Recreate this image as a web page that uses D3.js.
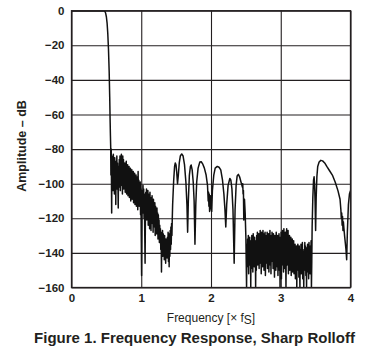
<!DOCTYPE html>
<html><head><meta charset="utf-8">
<script src="https://cdn.jsdelivr.net/npm/d3@7"></script>
<style>
html,body{margin:0;padding:0;background:#fff;}
svg{display:block;}
text{font-family:"Liberation Sans",Arial,sans-serif;fill:#231f20;}
</style></head>
<body>
<svg id="c" width="376" height="357"></svg>
<script>
const xTicks = [0, 1, 2, 3, 4];
const yTicks = [0, -20, -40, -60, -80, -100, -120, -140, -160];

// Frequency (× fS) and amplitude (dB)
const passband = [
  [0,0],[0.1,0],[0.2,0],[0.3,0],[0.4,0],[0.47,0],[0.48,-0.5],[0.49,-1.5],[0.50,-3.5],
  [0.51,-7],[0.52,-13],[0.53,-22],[0.54,-35],[0.548,-50],[0.553,-62],[0.558,-72],[0.562,-79]
];
const noiseLow = [
  [0.565,-95],[0.570,-80],[0.576,-117],[0.580,-84],[0.585,-100],[0.590,-86],[0.595,-104],[0.600,-83],
  [0.605,-98],[0.610,-88],[0.615,-106],[0.620,-85],[0.625,-101],[0.630,-89],[0.635,-112],[0.640,-87],
  [0.645,-99],[0.650,-84],[0.655,-103],[0.660,-88],[0.665,-97],[0.670,-114],[0.675,-90],[0.680,-102],
  [0.685,-86],[0.690,-98],[0.695,-84],[0.700,-104],[0.705,-88],[0.710,-99],[0.715,-83],[0.720,-101],
  [0.725,-85],[0.730,-106],[0.735,-84],[0.740,-97],[0.745,-86],[0.750,-103],[0.755,-90],[0.760,-100],
  [0.765,-88],[0.770,-105],[0.775,-91],[0.780,-99],[0.785,-87],[0.790,-106],[0.795,-92],[0.800,-101],
  [0.805,-89],[0.810,-107],[0.815,-93],[0.820,-103],[0.825,-90],[0.830,-108],[0.835,-94],[0.840,-102],
  [0.845,-91],[0.850,-110],[0.855,-95],[0.860,-104],[0.865,-92],[0.870,-109],[0.875,-96],[0.880,-103],
  [0.885,-93],[0.890,-111],[0.895,-97],[0.900,-105],[0.905,-94],[0.910,-112],[0.915,-99],[0.920,-106],
  [0.925,-95],[0.930,-113],[0.935,-100],[0.940,-108],[0.945,-96],[0.950,-115],[0.955,-93],[0.960,-107],
  [0.965,-98],[0.970,-113],[0.975,-101],[0.980,-109],[0.985,-99],[0.990,-118],[0.995,-103],[1.000,-130],
  [1.005,-153],[1.010,-122],[1.015,-104],[1.020,-112],[1.025,-101],[1.030,-117],[1.035,-103],[1.040,-120],
  [1.045,-106],[1.050,-128],[1.055,-146],[1.060,-118],[1.065,-105],[1.070,-116],[1.075,-103],[1.080,-121],
  [1.085,-107],[1.090,-114],[1.095,-104],[1.100,-124],[1.105,-106],[1.110,-119],[1.115,-108],[1.120,-126],
  [1.125,-105],[1.130,-118],[1.135,-110],[1.140,-127],[1.145,-108],[1.150,-121],[1.155,-107],[1.160,-123],
  [1.165,-110],[1.170,-128],[1.175,-109],[1.180,-120],[1.185,-112],[1.190,-125],[1.195,-111],[1.200,-130],
  [1.205,-113],[1.210,-122],[1.215,-115],[1.220,-129],[1.225,-114],[1.230,-124],[1.235,-117],[1.240,-132],
  [1.245,-118],[1.250,-127],[1.255,-121],[1.260,-134],[1.265,-124],[1.270,-131],[1.275,-126],[1.280,-138],
  [1.285,-128],[1.290,-151],[1.295,-130],[1.300,-139],[1.305,-127],[1.310,-142],[1.315,-129],[1.320,-137],
  [1.325,-131],[1.330,-144],[1.335,-130],[1.340,-140],[1.345,-133],[1.350,-146],[1.355,-132],[1.360,-141],
  [1.365,-134],[1.370,-143],[1.375,-131],[1.380,-139],[1.385,-128],[1.390,-145],[1.395,-129],[1.400,-148],
  [1.405,-131],[1.410,-142],[1.415,-127],[1.420,-138],[1.425,-125],[1.430,-135],[1.435,-123],[1.440,-130],
  [1.445,-120]
];
const lobesMid = [
  [1.450,-112],[1.465,-98],[1.478,-90],[1.488,-88],[1.498,-89],[1.508,-93],[1.520,-100],[1.532,-95],
  [1.545,-88],[1.560,-84],[1.580,-82.8],[1.600,-84],[1.620,-89],[1.640,-99],[1.655,-112],[1.665,-128],
  [1.675,-110],[1.690,-95],[1.705,-90],[1.715,-89.2],[1.730,-92],[1.745,-99],[1.758,-110],[1.770,-135],
  [1.782,-112],[1.795,-99],[1.815,-91],[1.840,-87.5],[1.860,-87.3],[1.880,-88.5],[1.905,-91],[1.930,-95],
  [1.950,-101],[1.960,-110],[1.965,-105],[1.970,-113],[1.975,-106],[1.980,-116],[1.985,-108],[1.990,-112],
  [1.995,-107],[2.000,-114],[2.010,-116],[2.020,-104],[2.040,-95],[2.060,-91],[2.090,-90],[2.115,-90.5],
  [2.140,-92],[2.165,-98],[2.185,-106],[2.200,-115],[2.212,-125],[2.225,-112],[2.245,-101],[2.270,-97],
  [2.285,-98],[2.300,-103],[2.315,-115],[2.332,-146],[2.345,-115],[2.360,-101],[2.375,-95.5],[2.392,-94.6],
  [2.410,-96],[2.430,-99],[2.450,-102],[2.455,-100],[2.460,-106],[2.465,-104],[2.470,-121],[2.480,-109],
  [2.490,-117],[2.500,-131]
];
const noiseFloor = [
  [2.510,-160],[2.515,-135],[2.520,-148],[2.525,-132],[2.530,-145],[2.535,-130],[2.540,-152],[2.545,-134],
  [2.550,-147],[2.555,-131],[2.560,-143],[2.565,-136],[2.570,-160],[2.575,-133],[2.580,-149],[2.585,-130],
  [2.590,-146],[2.595,-132],[2.600,-151],[2.605,-129],[2.610,-144],[2.615,-134],[2.620,-148],[2.625,-131],
  [2.630,-142],[2.635,-137],[2.640,-160],[2.645,-133],[2.650,-150],[2.655,-130],[2.660,-145],[2.665,-128],
  [2.670,-147],[2.675,-132],[2.680,-141],[2.685,-129],[2.690,-149],[2.695,-131],[2.700,-143],[2.705,-127],
  [2.710,-146],[2.715,-130],[2.720,-152],[2.725,-128],[2.730,-144],[2.735,-131],[2.740,-148],[2.745,-127],
  [2.750,-142],[2.755,-133],[2.760,-150],[2.765,-129],[2.770,-145],[2.775,-128],[2.780,-153],[2.785,-132],
  [2.790,-146],[2.795,-130],[2.800,-141],[2.805,-128],[2.810,-149],[2.815,-133],[2.820,-144],[2.825,-129],
  [2.830,-151],[2.835,-131],[2.840,-143],[2.845,-127],[2.850,-147],[2.855,-134],[2.860,-152],[2.865,-130],
  [2.870,-145],[2.875,-128],[2.880,-140],[2.885,-132],[2.890,-149],[2.895,-129],[2.900,-146],[2.905,-133],
  [2.910,-154],[2.915,-130],[2.920,-144],[2.925,-131],[2.930,-150],[2.935,-128],[2.940,-143],[2.945,-135],
  [2.950,-148],[2.955,-130],[2.960,-153],[2.965,-132],[2.970,-145],[2.975,-129],[2.980,-150],[2.985,-134],
  [2.990,-160],[2.995,-131],[3.000,-146],[3.005,-128],[3.010,-155],[3.015,-133],[3.020,-147],[3.025,-127],
  [3.030,-143],[3.035,-131],[3.040,-151],[3.045,-126],[3.050,-145],[3.055,-130],[3.060,-149],[3.065,-128],
  [3.070,-141],[3.075,-160],[3.080,-132],[3.085,-126],[3.090,-147],[3.095,-129],[3.100,-143],[3.105,-127],
  [3.110,-152],[3.115,-131],[3.120,-146],[3.125,-130],[3.130,-150],[3.135,-133],[3.140,-144],[3.145,-131],
  [3.150,-153],[3.155,-134],[3.160,-147],[3.165,-132],[3.170,-151],[3.175,-136],[3.180,-145],[3.185,-133],
  [3.190,-152],[3.195,-137],[3.200,-148],[3.205,-135],[3.210,-155],[3.215,-138],[3.220,-149],[3.225,-136],
  [3.230,-160],[3.235,-139],[3.240,-150],[3.245,-135],[3.250,-146],[3.255,-137],[3.260,-154],[3.265,-136],
  [3.270,-148],[3.275,-160],[3.280,-138],[3.285,-147],[3.290,-135],[3.295,-152],[3.300,-137],[3.305,-149],
  [3.310,-134],[3.315,-155],[3.320,-138],[3.325,-147],[3.330,-160],[3.335,-139],[3.340,-150],[3.345,-134],
  [3.350,-148],[3.355,-136],[3.360,-153],[3.365,-137],[3.370,-160],[3.375,-139],[3.380,-151],[3.385,-135],
  [3.390,-148],[3.395,-137],[3.400,-155],[3.405,-134],[3.410,-149],[3.415,-136],[3.420,-152],[3.425,-138],
  [3.430,-147],[3.435,-133],[3.440,-160],[3.445,-145]
];
const lobesHigh = [
  [3.450,-125],[3.460,-108],[3.470,-98],[3.478,-96],[3.485,-100],[3.492,-110],[3.500,-127],[3.508,-108],
  [3.518,-96],[3.530,-90],[3.550,-87.5],[3.575,-86.5],[3.600,-86.8],[3.630,-88],[3.660,-90],[3.700,-92.5],
  [3.740,-95],[3.780,-99],[3.820,-104],[3.850,-109],[3.862,-115],[3.868,-120],[3.874,-117],[3.880,-124],
  [3.886,-119],[3.892,-127],[3.898,-122],[3.906,-126],[3.915,-130],[3.925,-134],[3.935,-138],[3.945,-144],
  [3.955,-128],[3.970,-112],[3.985,-106],[4.000,-104]
];

const series = [].concat(passband, noiseLow, lobesMid, noiseFloor, lobesHigh);

const svg = d3.select("#c");
const x = d3.scaleLinear().domain([0, 4]).range([71.5, 350.5]);
const y = d3.scaleLinear().domain([-160, 0]).range([287.5, 10.7]);

// grid
svg.append("g").attr("transform", `translate(0,${y(-160)})`)
  .call(d3.axisBottom(x).tickValues(xTicks).tickSize(-(y(-160) - y(0))).tickFormat(""))
  .call(g => g.select(".domain").remove())
  .call(g => g.selectAll("line").attr("stroke", "#231f20").attr("stroke-width", 1.1));
svg.append("g").attr("transform", `translate(${x(0)},0)`)
  .call(d3.axisLeft(y).tickValues(yTicks).tickSize(-(x(4) - x(0))).tickFormat(""))
  .call(g => g.select(".domain").remove())
  .call(g => g.selectAll("line").attr("stroke", "#231f20").attr("stroke-width", 1.1));

svg.append("defs").append("clipPath").attr("id", "clip")
  .append("rect").attr("x", x(0)).attr("y", y(0)).attr("width", x(4) - x(0)).attr("height", y(-160) - y(0));

const line = d3.line().x(d => x(d[0])).y(d => y(d[1]));
svg.append("path").datum(series)
  .attr("clip-path", "url(#clip)")
  .attr("fill", "none").attr("stroke", "#111").attr("stroke-width", 1.5)
  .attr("stroke-linejoin", "round")
  .attr("d", line);

// frame
svg.append("rect").attr("x", x(0)).attr("y", y(0))
  .attr("width", x(4) - x(0)).attr("height", y(-160) - y(0))
  .attr("fill", "none").attr("stroke", "#231f20").attr("stroke-width", 1.3);

// tick labels
const yAx = svg.append("g").attr("transform", `translate(${x(0)},0)`)
  .call(d3.axisLeft(y).tickValues(yTicks).tickSize(0).tickPadding(7)
    .tickFormat(d => d === 0 ? "0" : "\u2212" + Math.abs(d)));
yAx.select(".domain").remove();
yAx.selectAll("text").attr("font-size", 11.5).attr("font-weight", "bold")
  .attr("font-family", "Liberation Sans, Arial, sans-serif").attr("fill", "#231f20");

const xAx = svg.append("g").attr("transform", `translate(0,${y(-160)})`)
  .call(d3.axisBottom(x).tickValues(xTicks).tickSize(0).tickPadding(6).tickFormat(d3.format("d")));
xAx.select(".domain").remove();
xAx.selectAll("text").attr("font-size", 11.5).attr("font-weight", "bold")
  .attr("font-family", "Liberation Sans, Arial, sans-serif").attr("fill", "#231f20");

// axis titles
const xt = svg.append("text").attr("x", 211).attr("y", 322).attr("text-anchor", "middle")
  .attr("font-size", 12);
xt.append("tspan").text("Frequency [\u00D7 f");
xt.append("tspan").attr("dy", 2).attr("font-size", 12).text("S");
xt.append("tspan").attr("dy", -2).text("]");

svg.append("text").attr("transform", "translate(26,146) rotate(-90)")
  .attr("text-anchor", "middle").attr("font-size", 12.5).attr("font-weight", "bold")
  .text("Amplitude \u2013 dB");

svg.append("text").attr("x", 194.5).attr("y", 343).attr("text-anchor", "middle")
  .attr("font-size", 15).attr("font-weight", "bold")
  .text("Figure 1. Frequency Response, Sharp Rolloff");
</script>
</body></html>
